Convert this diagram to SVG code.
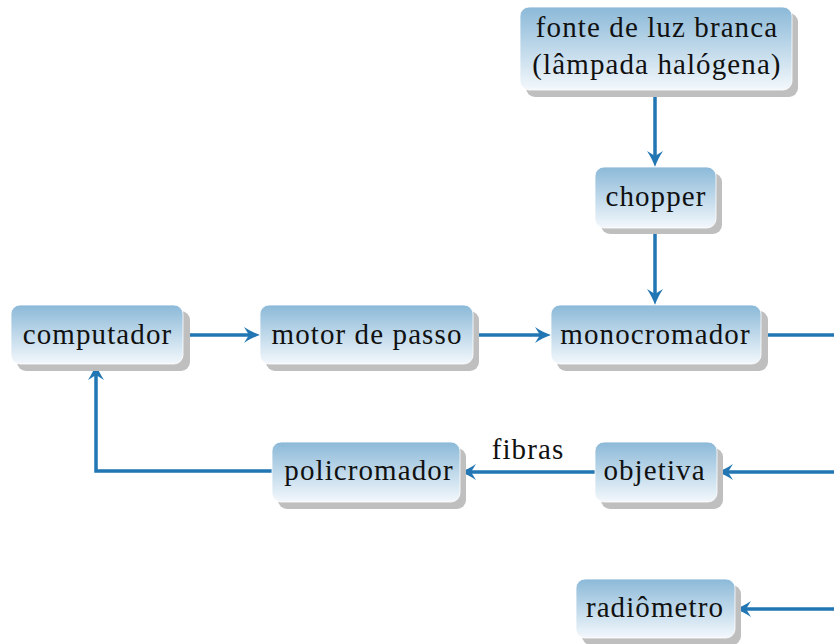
<svg xmlns="http://www.w3.org/2000/svg" width="834" height="644" viewBox="0 0 834 644">
  <defs>
    <linearGradient id="boxFill" x1="0" y1="0" x2="0" y2="1">
      <stop offset="0" stop-color="#8bb9d8"/>
      <stop offset="1" stop-color="#f3f8fc"/>
    </linearGradient>
    <!-- stealth-style head; line ends at the notch, tip 11px further on -->
    <marker id="head" markerUnits="userSpaceOnUse" markerWidth="24" markerHeight="24" viewBox="-8 -12 24 24" refX="0" refY="0" orient="auto">
      <path d="M11,0 C6,-1.8 0,-4.5 -5,-8 L0,0 L-5,8 C0,4.5 6,1.8 11,0 Z" fill="#2176b3"/>
    </marker>
  </defs>
  <style>
    .shadow { fill: #bfbfbf; }
    .box { fill: url(#boxFill); stroke: #ffffff; stroke-width: 0.8; }
    .lbl { font-family: 'Liberation Serif', 'DejaVu Serif', serif; font-size: 29px; letter-spacing: 1.1px; fill: #111111; text-anchor: middle; }
    .wire { fill: none; stroke: #2176b3; stroke-width: 3.5; }
  </style>

  <rect width="834" height="644" fill="#ffffff"/>

  <!-- connectors -->
  <g id="connectors">
    <line class="wire" x1="655" y1="90" x2="655" y2="156" marker-end="url(#head)"/>
    <line class="wire" x1="655" y1="228" x2="655" y2="294" marker-end="url(#head)"/>
    <line class="wire" x1="183" y1="335" x2="249" y2="335" marker-end="url(#head)"/>
    <line class="wire" x1="473" y1="335" x2="540" y2="335" marker-end="url(#head)"/>
    <line class="wire" x1="761" y1="335" x2="834" y2="335"/>
    <line class="wire" x1="834" y1="472" x2="728" y2="472" marker-end="url(#head)"/>
    <line class="wire" x1="595" y1="472" x2="471" y2="472" marker-end="url(#head)"/>
    <polyline class="wire" points="272,471 96,471 96,375" marker-end="url(#head)"/>
    <line class="wire" x1="834" y1="609" x2="746" y2="609" marker-end="url(#head)"/>
    <text class="lbl" x="528" y="459">fibras</text>
  </g>

  <!-- nodes -->
  <g id="fonte">
    <rect class="shadow" x="526" y="13" width="272" height="84" rx="9"/>
    <rect class="box" x="520" y="7" width="272" height="83" rx="9"/>
    <text class="lbl" x="657" y="37">fonte de luz branca</text>
    <text class="lbl" x="657" y="74">(lâmpada halógena)</text>
  </g>

  <g id="chopper">
    <rect class="shadow" x="601" y="173" width="121" height="61" rx="9"/>
    <rect class="box" x="595" y="167" width="121" height="61" rx="9"/>
    <text class="lbl" x="656" y="206">chopper</text>
  </g>

  <g id="computador">
    <rect class="shadow" x="17" y="311" width="173" height="60" rx="9"/>
    <rect class="box" x="11" y="305" width="172" height="59" rx="9"/>
    <text class="lbl" x="97.5" y="344">computador</text>
  </g>

  <g id="motor">
    <rect class="shadow" x="266" y="311" width="213" height="60" rx="9"/>
    <rect class="box" x="260" y="305" width="213" height="59" rx="9"/>
    <text class="lbl" x="367" y="344">motor de passo</text>
  </g>

  <g id="monocromador">
    <rect class="shadow" x="557" y="311" width="211" height="60" rx="9"/>
    <rect class="box" x="551" y="305" width="210" height="59" rx="9"/>
    <text class="lbl" x="655.5" y="344">monocromador</text>
  </g>

  <g id="policromador">
    <rect class="shadow" x="278" y="448" width="188" height="61" rx="9"/>
    <rect class="box" x="272" y="442" width="188" height="60" rx="9"/>
    <text class="lbl" x="369" y="480">policromador</text>
  </g>

  <g id="objetiva">
    <rect class="shadow" x="601" y="448" width="122" height="61" rx="9"/>
    <rect class="box" x="595" y="442" width="122" height="60" rx="9"/>
    <text class="lbl" x="654.5" y="480">objetiva</text>
  </g>

  <g id="radiometro">
    <rect class="shadow" x="582" y="585" width="159" height="60" rx="9"/>
    <rect class="box" x="576" y="579" width="159" height="59" rx="9"/>
    <text class="lbl" x="655" y="617">radiômetro</text>
  </g>
</svg>
